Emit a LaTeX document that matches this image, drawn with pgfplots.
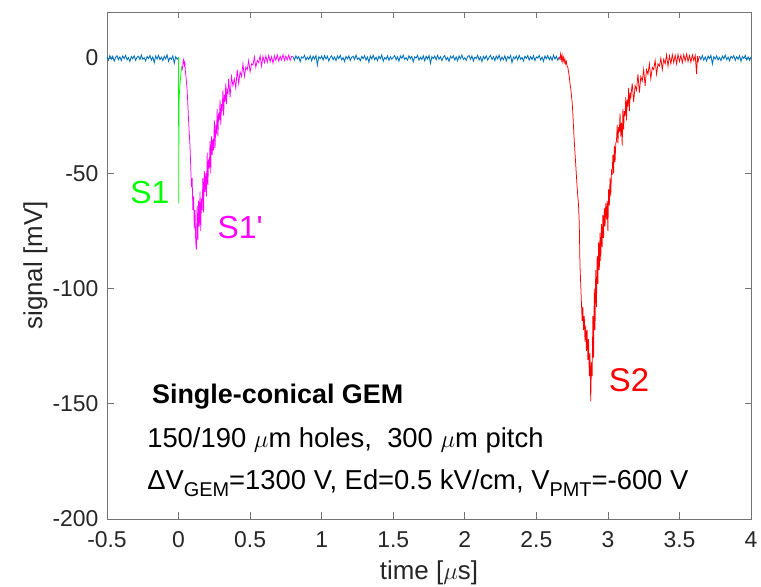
\documentclass[border=0pt]{standalone}
\usepackage{pgfplots}
\pgfplotsset{compat=1.18}
\usepackage{fontspec}
\setmainfont{Liberation Sans}
\definecolor{mblue}{rgb}{0,0.447,0.741}
\definecolor{mgreen}{rgb}{0,1,0}
\definecolor{mmag}{rgb}{1,0,1}
\definecolor{mred}{rgb}{1,0,0}
\definecolor{axisgray}{rgb}{0.45,0.45,0.45}
\definecolor{textgray}{rgb}{0.15,0.15,0.15}
\begin{document}
\begin{tikzpicture}
\useasboundingbox (0,0) rectangle (761bp,587bp);
\begin{axis}[
  at={(107bp,68bp)}, anchor=south west,
  scale only axis, width=644bp, height=507bp,
  xmin=-0.5, xmax=4, ymin=-200, ymax=20,
  xtick={-0.5,0,0.5,1,1.5,2,2.5,3,3.5,4},
  ytick={-200,-150,-100,-50,0},
  tick align=inside, major tick length=6.5bp,
  axis line style={color=axisgray, line width=0.6bp},
  every tick/.style={color=axisgray, line width=0.6bp},
  ticklabel style={font=\fontsize{23}{23}\selectfont, color=textgray},
  xticklabel style={yshift=-9bp},
  yticklabel style={xshift=-5bp},
  /pgf/number format/assume math mode=true,
  /pgf/number format/fixed,
  xlabel={time [$\mu$s]}, ylabel={signal [mV]},
  label style={font=\fontsize{26}{26}\selectfont, color=textgray},
  xlabel style={at={(axis description cs:0.5,-0.1203)}, anchor=base},
  ylabel style={at={(axis description cs:-0.1009,0.5)}, anchor=base, rotate=0},
  clip=false,
  every axis plot/.style={line width=0.75bp},
]
% baseline before S1
\addplot[mblue, line width=0.85bp] coordinates {(-0.50,0.6)(-0.49,-0.9)(-0.48,1.1)(-0.47,-0.4)(-0.46,0.8)(-0.45,-1.3)(-0.44,0.3)(-0.43,1.0)(-0.42,-0.7)(-0.41,0.5)(-0.40,-1.1)(-0.39,0.9)(-0.38,-0.2)(-0.37,1.2)(-0.36,-0.8)(-0.35,0.2)(-0.34,-1.5)(-0.33,0.7)(-0.32,-0.3)(-0.31,1.0)(-0.30,-1.0)(-0.29,0.4)(-0.28,0.8)(-0.27,-0.6)(-0.26,1.3)(-0.25,-0.5)(-0.24,0.1)(-0.23,-1.2)(-0.22,0.7)(-0.21,-0.2)(-0.20,1.1)(-0.19,-0.9)(-0.18,0.5)(-0.17,-2.0)(-0.16,0.9)(-0.15,-0.4)(-0.14,1.2)(-0.13,-0.7)(-0.12,0.4)(-0.11,-1.1)(-0.10,0.8)(-0.09,-0.3)(-0.08,1.4)(-0.07,-1.4)(-0.06,0.2)(-0.05,-0.5)(-0.04,1.0)(-0.03,-2.2)(-0.02,0.6)(-0.01,-0.5)(0.00,0.3)};
% baseline between S1' and S2
\addplot[mblue, line width=0.85bp] coordinates {(0.80,0.6)(0.81,-0.9)(0.82,1.0)(0.83,-0.3)(0.84,0.7)(0.85,-1.6)(0.86,0.5)(0.87,0.0)(0.88,1.2)(0.89,-0.9)(0.90,0.4)(0.91,-0.6)(0.92,1.0)(0.93,-1.2)(0.94,0.8)(0.95,-0.4)(0.96,1.1)(0.97,-3.0)(0.98,0.6)(0.99,-0.2)(1.00,0.9)(1.01,-0.9)(1.02,1.1)(1.03,-0.4)(1.04,0.8)(1.05,-1.3)(1.06,0.3)(1.07,1.0)(1.08,-0.7)(1.09,0.5)(1.10,-1.1)(1.11,0.9)(1.12,-0.2)(1.13,1.2)(1.14,-0.8)(1.15,0.2)(1.16,-1.5)(1.17,0.7)(1.18,-0.3)(1.19,1.0)(1.20,-1.0)(1.21,0.4)(1.22,0.8)(1.23,-0.6)(1.24,1.3)(1.25,-0.5)(1.26,0.1)(1.27,-1.2)(1.28,0.7)(1.29,-0.2)(1.30,1.1)(1.31,-0.9)(1.32,0.5)(1.33,-1.8)(1.34,0.9)(1.35,-0.4)(1.36,1.2)(1.37,-0.7)(1.38,0.4)(1.39,-1.1)(1.40,0.8)(1.41,-0.3)(1.42,1.4)(1.43,-1.4)(1.44,0.2)(1.45,-0.5)(1.46,1.0)(1.47,-1.0)(1.48,0.6)(1.49,-0.5)(1.50,0.3)(1.51,1.1)(1.52,-0.8)(1.53,0.6)(1.54,-1.3)(1.55,0.9)(1.56,-0.1)(1.57,1.3)(1.58,-0.6)(1.59,0.2)(1.60,-0.9)(1.61,1.0)(1.62,-0.3)(1.63,0.7)(1.64,-1.6)(1.65,0.5)(1.66,0.0)(1.67,1.2)(1.68,-0.9)(1.69,0.4)(1.70,-0.6)(1.71,1.0)(1.72,-1.2)(1.73,0.8)(1.74,-0.4)(1.75,1.1)(1.76,-2.3)(1.77,0.6)(1.78,-0.2)(1.79,0.9)(1.80,-0.7)(1.81,1.2)(1.82,-0.5)(1.83,0.6)(1.84,-1.1)(1.85,0.4)(1.86,1.1)(1.87,-0.8)(1.88,0.3)(1.89,-1.4)(1.90,0.8)(1.91,-0.1)(1.92,1.0)(1.93,-0.9)(1.94,0.5)(1.95,-1.2)(1.96,0.9)(1.97,-0.3)(1.98,1.3)(1.99,-0.6)(2.00,0.2)(2.01,-1.0)(2.02,0.7)(2.03,1.1)(2.04,-0.5)(2.05,0.9)(2.06,-1.3)(2.07,0.4)(2.08,-0.2)(2.09,1.2)(2.10,-0.8)(2.11,0.5)(2.12,-1.5)(2.13,0.8)(2.14,-0.4)(2.15,1.0)(2.16,-0.9)(2.17,0.3)(2.18,1.2)(2.19,-0.6)(2.20,0.6)(2.21,-1.1)(2.22,0.9)(2.23,-0.3)(2.24,1.3)(2.25,-1.0)(2.26,0.4)(2.27,-0.7)(2.28,1.0)(2.29,-1.2)(2.30,0.7)(2.31,-0.2)(2.32,1.1)(2.33,-2.0)(2.34,0.5)(2.35,-0.4)(2.36,0.9)(2.37,-0.8)(2.38,1.2)(2.39,-0.5)(2.40,0.3)(2.41,-1.3)(2.42,0.8)(2.43,-0.1)(2.44,1.1)(2.45,-0.9)(2.46,0.6)(2.47,-0.6)(2.48,1.0)(2.49,-1.1)(2.50,0.5)(2.51,0.0)(2.52,1.2)(2.53,-0.8)(2.54,0.4)(2.55,-1.4)(2.56,0.9)(2.57,-0.3)(2.58,1.1)(2.59,-0.7)(2.60,0.6)(2.61,-1.0)(2.62,1.3)(2.63,-0.4)(2.64,0.8)(2.65,-0.9)(2.66,0.5)};
% baseline after S2
\addplot[mblue, line width=0.85bp] coordinates {(3.64,0.8)(3.65,-0.6)(3.66,1.1)(3.67,-0.9)(3.68,0.5)(3.69,-1.3)(3.70,0.9)(3.71,-0.2)(3.72,1.2)(3.73,-2.6)(3.74,0.6)(3.75,-0.4)(3.76,1.0)(3.77,-0.8)(3.78,0.3)(3.79,-1.1)(3.80,0.9)(3.81,-0.3)(3.82,1.3)(3.83,-0.7)(3.84,0.4)(3.85,-1.2)(3.86,0.8)(3.87,0.0)(3.88,1.1)(3.89,-1.0)(3.90,0.6)(3.91,-0.5)(3.92,1.0)(3.93,-1.4)(3.94,0.7)(3.95,-0.2)(3.96,1.2)(3.97,-0.8)(3.98,0.5)(3.99,-1.0)(4.00,0.6)};
% S1
\addplot[mgreen] coordinates {(0,0.3)(0.001,-63)(0.002,-40)(0.004,-18)(0.008,-13)(0.012,-10)(0.016,-7)(0.02,-5)(0.024,-3.5)};
% S1'
\addplot[mmag] coordinates {(0.024,-3.5)(0.028,-4.5)(0.032,-1.5)(0.036,-0.6)(0.04,-3)(0.044,-2)(0.048,-6)(0.052,-8)(0.056,-11)(0.06,-14)(0.065,-20)(0.07,-27)(0.075,-33)(0.08,-38)(0.085,-47)(0.09,-56)(0.095,-52)(0.10,-66)(0.105,-60)(0.11,-74)(0.115,-66)(0.12,-80)(0.125,-83)(0.13,-64)(0.135,-79)(0.14,-62)(0.145,-73)(0.15,-58)(0.155,-75)(0.16,-61)(0.165,-66)(0.17,-52)(0.175,-67)(0.18,-49)(0.185,-58)(0.19,-50)(0.195,-60)(0.2,-41)(0.205,-55)(0.21,-44)(0.215,-48)(0.22,-36)(0.225,-50)(0.23,-34)(0.235,-42)(0.24,-35)(0.245,-40)(0.25,-27)(0.255,-39)(0.26,-29)(0.265,-33)(0.27,-22)(0.275,-34)(0.28,-24)(0.285,-27)(0.29,-18)(0.295,-29)(0.30,-20)(0.305,-23)(0.31,-14)(0.315,-25)(0.32,-16)(0.325,-19)(0.33,-11)(0.335,-20)(0.34,-14)(0.345,-15)(0.35,-9)(0.36,-17)(0.37,-8)(0.38,-12)(0.39,-9)(0.40,-13)(0.41,-5)(0.42,-11)(0.43,-6)(0.44,-8)(0.45,-2.5)(0.46,-8)(0.47,-4)(0.48,-5)(0.49,-1)(0.50,-6)(0.51,-2.5)(0.52,-3)(0.53,0.5)(0.54,-4)(0.55,-1)(0.56,-2)(0.57,1)(0.58,-3.5)(0.59,0.8)(0.60,-2)(0.61,0.9)(0.62,-1.8)(0.63,1.2)(0.64,-1.5)(0.65,0.6)(0.66,-2.2)(0.67,1.0)(0.68,-1.0)(0.69,1.4)(0.70,-1.3)(0.71,0.8)(0.72,-0.9)(0.73,1.5)(0.74,-1.1)(0.75,0.9)(0.76,-0.7)(0.77,1.3)(0.78,-1.0)(0.79,0.7)(0.80,0.6)};
% S2
\addplot[mred] coordinates {(2.66,0.5)(2.665,-0.5)(2.67,1.8)(2.675,-0.8)(2.68,1.2)(2.685,-1.5)(2.69,0.3)(2.695,-1.8)(2.70,-0.5)(2.705,-2.5)(2.71,-1.5)(2.715,-3.5)(2.72,-4)(2.725,-6)(2.73,-8)(2.735,-11)(2.74,-13)(2.745,-16)(2.75,-19)(2.755,-24)(2.76,-30)(2.765,-36)(2.77,-41)(2.775,-46)(2.78,-51)(2.785,-56)(2.79,-60)(2.795,-64)(2.80,-72)(2.805,-90)(2.81,-98)(2.815,-106)(2.82,-114)(2.825,-108)(2.83,-118)(2.835,-112)(2.84,-123)(2.845,-116)(2.85,-127)(2.855,-118)(2.86,-131)(2.865,-122)(2.87,-138)(2.875,-128)(2.88,-149)(2.885,-132)(2.89,-138)(2.895,-112)(2.90,-130)(2.905,-100)(2.91,-118)(2.915,-92)(2.92,-108)(2.925,-86)(2.93,-98)(2.935,-80)(2.94,-92)(2.945,-76)(2.95,-88)(2.955,-72)(2.96,-82)(2.965,-68)(2.97,-78)(2.975,-65)(2.98,-73)(2.985,-63)(2.99,-70)(2.995,-62)(3.0,-75)(3.005,-57)(3.01,-64)(3.015,-52)(3.02,-60)(3.025,-49)(3.03,-50)(3.035,-42)(3.04,-50)(3.045,-38)(3.05,-45)(3.055,-37)(3.06,-36)(3.065,-29)(3.07,-37)(3.075,-30)(3.08,-32)(3.085,-24)(3.09,-34)(3.095,-28)(3.10,-38)(3.105,-22)(3.11,-31)(3.115,-23)(3.12,-25)(3.125,-17)(3.13,-27)(3.135,-18)(3.14,-21)(3.145,-13)(3.15,-23)(3.155,-15)(3.16,-17)(3.17,-11)(3.18,-19)(3.19,-12)(3.20,-14)(3.21,-7)(3.22,-15)(3.23,-8)(3.24,-10)(3.25,-5)(3.26,-12)(3.27,-5)(3.28,-7)(3.29,-2.5)(3.30,-9)(3.31,-4)(3.32,-5)(3.33,-1)(3.34,-7)(3.35,-2.5)(3.36,-3.5)(3.37,0)(3.38,-5)(3.39,-0.5)(3.40,-2.5)(3.41,1.5)(3.42,-3.5)(3.43,1)(3.44,-2.5)(3.45,1.5)(3.46,-2)(3.47,1.2)(3.48,-2.5)(3.49,1.6)(3.50,-1.5)(3.51,1.2)(3.52,-2)(3.53,1.5)(3.54,-1.2)(3.55,1.8)(3.56,-1.5)(3.57,1.1)(3.58,-1.8)(3.59,1.4)(3.60,-1)(3.61,1.2)(3.62,-7)(3.625,1)(3.63,-1.5)(3.64,0.8)};
% labels
\node[text=mgreen, font=\fontsize{32}{32}\selectfont, inner sep=0] at (axis cs:-0.2,-58.4) {S1};
\node[text=mmag, font=\fontsize{32}{32}\selectfont, inner sep=0] at (axis cs:0.43,-73.6) {S1\textquotesingle};
\node[text=mred, font=\fontsize{33}{33}\selectfont, inner sep=0] at (axis cs:3.148,-139.8) {S2};
\node[anchor=base west, inner sep=0, font=\fontsize{27}{27}\selectfont\bfseries] at (axis cs:-0.186,-149.8) {Single-conical GEM};
\node[anchor=base west, inner sep=0, font=\fontsize{27.5}{27.5}\selectfont] at (axis cs:-0.22,-168.8) {150/190 $\mu$m holes,\ \ 300 $\mu$m pitch};
\node[anchor=base west, inner sep=0, font=\fontsize{27.5}{27.5}\selectfont] at (axis cs:-0.22,-187.4) {ΔV\raisebox{-0.45ex}{\fontsize{20}{20}\selectfont GEM}=1300 V, Ed=0.5 kV/cm, V\raisebox{-0.45ex}{\fontsize{20}{20}\selectfont PMT}=-600 V};
\end{axis}
\end{tikzpicture}
\end{document}
